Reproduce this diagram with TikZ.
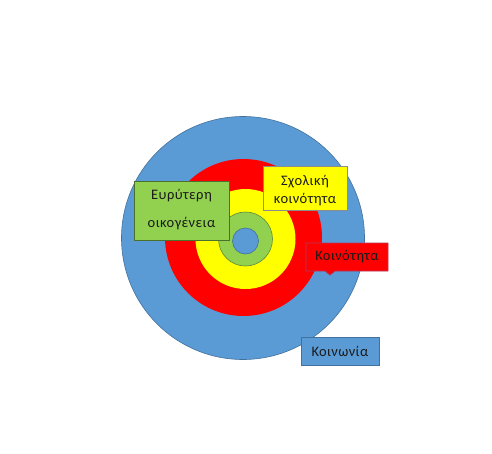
\documentclass[tikz,border=0pt]{standalone}
\usepackage{fontspec}
\setmainfont{Carlito}[LetterSpace=3]
\definecolor{oblue}{HTML}{5B9BD5}
\definecolor{oblueline}{HTML}{41719C}
\definecolor{ogreen}{HTML}{92D050}
\definecolor{ogreenline}{HTML}{5E8C3A}
\definecolor{oyellow}{HTML}{FFFF00}
\definecolor{ored}{HTML}{FF0000}
\definecolor{oredline}{HTML}{B03A5A}
\definecolor{otext}{HTML}{1A1A1A}
\begin{document}
\begin{tikzpicture}[x=1pt,y=-1pt,
  ring/.style={line width=0.6pt},
  label/.style={rectangle, line width=0.8pt, inner sep=0pt, anchor=north west},
  txt/.style={font=\fontsize{14.5}{17}\selectfont, text=otext, inner sep=0pt},
]
\useasboundingbox (0,0) rectangle (492,453);
\fill[white] (0,0) rectangle (492,453);
% rings
\node[ring, circle, fill=oblue, draw=oblueline, minimum size=243pt, inner sep=0pt] (society) at (243,238) {};
\node[circle, fill=ored, minimum size=157pt, inner sep=0pt] (community) at (243.5,237.5) {};
\node[circle, fill=oyellow, minimum size=100pt, inner sep=0pt] (school) at (245.5,239) {};
\node[ring, circle, fill=ogreen, draw=ogreenline, minimum size=54pt, inner sep=0pt] (family) at (245.5,239) {};
\node[ring, circle, fill=oblue, draw=oblueline, minimum size=26pt, inner sep=0pt] (self) at (245.5,241) {};
% labels
\node[label, fill=ogreen, draw=ogreenline!80!black, minimum width=95pt, minimum height=59pt] (lfam) at (134,181) {};
\node[txt] (lfam1) at (181.5,196) {Ευρύτερη};
\node[txt] (lfam2) at (181.5,224) {οικογένεια};
\node[label, fill=oyellow, draw=black!45, minimum width=84pt, minimum height=44pt] (lsch) at (263,166) {};
\node[txt] (lsch1) at (305,182) {Σχολική};
\node[txt] (lsch2) at (305,200) {κοινότητα};
\filldraw[fill=ored, draw=oredline, line width=0.8pt]
  (306,243) -- (388,243) -- (388,271) -- (335,271) -- (330,275) -- (325,271) -- (306,271) -- cycle;
\node[txt] (lcom) at (347,256.5) {Κοινότητα};
\node[label, fill=oblue, draw=oblueline, minimum width=78pt, minimum height=28pt] (lsoc) at (301,337) {};
\node[txt] (lsoc1) at (340,351) {Κοινωνία};
\end{tikzpicture}
\end{document}
